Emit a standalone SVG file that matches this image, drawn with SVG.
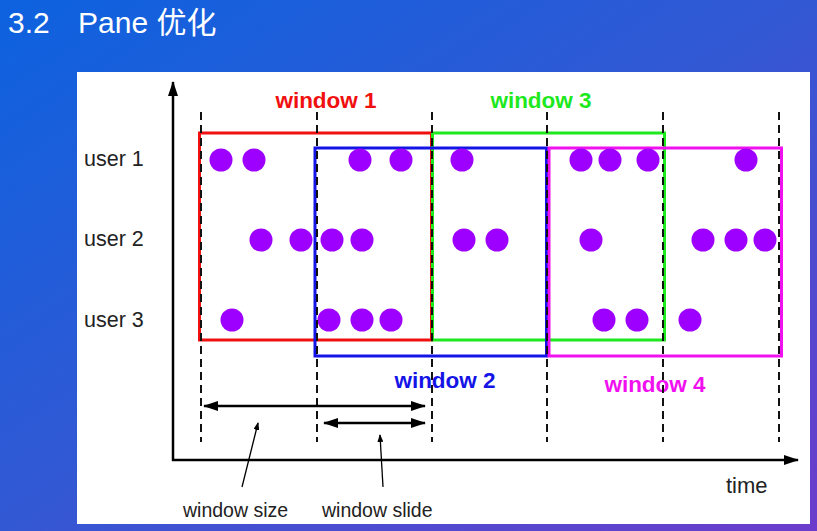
<svg xmlns="http://www.w3.org/2000/svg" width="817" height="531" viewBox="0 0 817 531">
<defs>
<linearGradient id="bg" x1="0" y1="0" x2="1" y2="1">
<stop offset="0" stop-color="#0d62df"/>
<stop offset="0.5" stop-color="#3358d4"/>
<stop offset="1" stop-color="#6c3ccb"/>
</linearGradient>
<marker id="ah" viewBox="0 0 15 10" markerWidth="15" markerHeight="10" refX="14" refY="5" orient="auto-start-reverse" markerUnits="userSpaceOnUse">
<path d="M0,0 L15,5 L0,10 z" fill="#000"/>
</marker>
<marker id="sh" viewBox="0 0 8 6" markerWidth="8" markerHeight="6" refX="7" refY="3" orient="auto" markerUnits="userSpaceOnUse">
<path d="M0,0 L8,3 L0,6 z" fill="#000"/>
</marker>
<style>
.ax{stroke:#000;stroke-width:2.5;fill:none}
.dash{stroke:#111;stroke-width:2;stroke-dasharray:8,5;fill:none}
.win{fill:none;stroke-width:3}
.dot{fill:#9d00ff}
.lbl{font-family:"Liberation Sans",Arial,sans-serif;font-size:21.5px;fill:#222}
.wl{font-family:"Liberation Sans",Arial,sans-serif;font-size:22.5px;font-weight:bold;text-anchor:middle}
.ann{font-family:"Liberation Sans",Arial,sans-serif;font-size:19.5px;fill:#222}
.ttl{font-family:"Liberation Sans","Noto Sans CJK SC",sans-serif;font-size:30px;fill:#fff}
</style>
</defs>
<rect x="0" y="0" width="817" height="531" fill="url(#bg)"/>
<rect x="77" y="72" width="733" height="452" fill="#fff"/>
<g id="title">
<text class="ttl" x="8" y="33">3.2</text>
<text class="ttl" x="78" y="33">Pane 优化</text>
</g>
<g id="windows">
<rect class="win" x="199.5" y="133" width="232" height="207" stroke="#f01010"/>
<rect class="win" x="432.5" y="133" width="232" height="207" stroke="#1ee81e"/>
<rect class="win" x="315" y="148" width="231.5" height="208" stroke="#1414e6"/>
<rect class="win" x="549" y="148" width="232.5" height="208" stroke="#f010f0"/>
</g>
<g id="events">
<circle class="dot" cx="221" cy="160" r="11.5"/>
<circle class="dot" cx="254" cy="160" r="11.5"/>
<circle class="dot" cx="360" cy="160" r="11.5"/>
<circle class="dot" cx="401" cy="160" r="11.5"/>
<circle class="dot" cx="462" cy="160" r="11.5"/>
<circle class="dot" cx="581" cy="160" r="11.5"/>
<circle class="dot" cx="610" cy="160" r="11.5"/>
<circle class="dot" cx="648" cy="160" r="11.5"/>
<circle class="dot" cx="746" cy="160" r="11.5"/>
<circle class="dot" cx="261" cy="240" r="11.5"/>
<circle class="dot" cx="301" cy="240" r="11.5"/>
<circle class="dot" cx="332" cy="240" r="11.5"/>
<circle class="dot" cx="362" cy="240" r="11.5"/>
<circle class="dot" cx="464" cy="240" r="11.5"/>
<circle class="dot" cx="497" cy="240" r="11.5"/>
<circle class="dot" cx="591" cy="240" r="11.5"/>
<circle class="dot" cx="703" cy="240" r="11.5"/>
<circle class="dot" cx="736" cy="240" r="11.5"/>
<circle class="dot" cx="765" cy="240" r="11.5"/>
<circle class="dot" cx="232" cy="320" r="11.5"/>
<circle class="dot" cx="329" cy="320" r="11.5"/>
<circle class="dot" cx="362" cy="320" r="11.5"/>
<circle class="dot" cx="391" cy="320" r="11.5"/>
<circle class="dot" cx="604" cy="320" r="11.5"/>
<circle class="dot" cx="637" cy="320" r="11.5"/>
<circle class="dot" cx="690" cy="320" r="11.5"/>
</g>
<g id="labels">
<text class="lbl" x="84" y="166">user 1</text>
<text class="lbl" x="84" y="246">user 2</text>
<text class="lbl" x="84" y="327">user 3</text>
<text class="wl" x="326" y="108" fill="#f01010">window 1</text>
<text class="wl" x="541" y="108" fill="#1ee81e">window 3</text>
<text class="wl" x="445" y="388" fill="#1414e6">window 2</text>
<text class="wl" x="655" y="392" fill="#f010f0">window 4</text>
<text class="ann" x="183" y="517">window size</text>
<text class="ann" x="322" y="517">window slide</text>
<text class="lbl" x="726" y="493" style="font-size:22px">time</text>
</g>
<g id="connectors">
<line class="ax" x1="173" y1="461" x2="173" y2="82" marker-end="url(#ah)"/>
<line class="ax" x1="172" y1="460" x2="798" y2="460" marker-end="url(#ah)"/>
<line class="dash" x1="201" y1="112" x2="201" y2="442"/>
<line class="dash" x1="317" y1="112" x2="317" y2="442"/>
<line class="dash" x1="432" y1="112" x2="432" y2="442"/>
<line class="dash" x1="547" y1="112" x2="547" y2="442"/>
<line class="dash" x1="663" y1="112" x2="663" y2="442"/>
<line class="dash" x1="779" y1="112" x2="779" y2="442"/>
<line class="ax" x1="204" y1="406" x2="425" y2="406" marker-start="url(#ah)" marker-end="url(#ah)"/>
<line class="ax" x1="324" y1="423" x2="425" y2="423" marker-start="url(#ah)" marker-end="url(#ah)"/>
<line x1="242" y1="487" x2="258" y2="423" stroke="#000" stroke-width="1.3" marker-end="url(#sh)"/>
<line x1="383" y1="487" x2="380" y2="435" stroke="#000" stroke-width="1.3" marker-end="url(#sh)"/>
</g>
</svg>
